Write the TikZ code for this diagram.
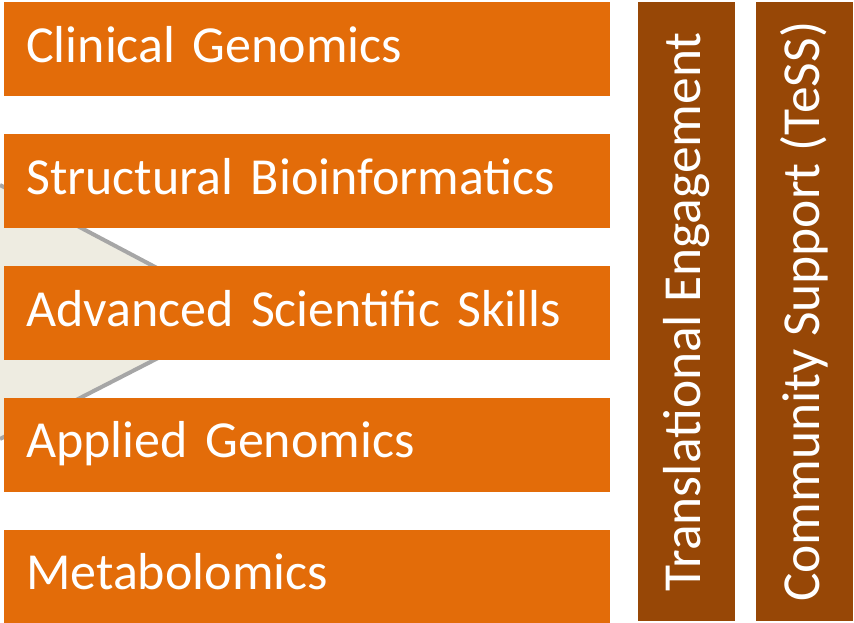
\documentclass[tikz,border=0pt]{standalone}
\usepackage{fontspec}
\setmainfont{Carlito}
\usetikzlibrary{positioning}

\definecolor{theme}{HTML}{E36C09}
\definecolor{themedark}{HTML}{974706}
\definecolor{backfill}{HTML}{EEECE1}
\definecolor{backline}{HTML}{A6A6A6}

\begin{document}
\begin{tikzpicture}
  [x=1pt,y=1pt,
   node distance=37.5pt,
   area/.style={fill=theme,text=white,minimum width=606pt,minimum height=94pt,
                inner xsep=22pt,text width=562pt,align=left,
                text height=40pt,text depth=14pt,
                font=\fontsize{52}{56}\selectfont},
   pillar/.style={fill=themedark,text=white,minimum width=97pt,minimum height=619pt,
                  font=\fontsize{53.5}{58}\selectfont}]

  \useasboundingbox (0,0) rectangle (854,-623);

  % background arrow behind the areas
  \fill[backfill] (0,-185) -- (244,-314) -- (0,-439) -- cycle;
  \draw[backline,line width=4pt] (0,-185) -- (244,-314) -- (0,-439);

  \node[area] (clinical)   at (4,-2) [anchor=north west] {Clinical Genomics};
  \node[area] (structural) [below=of clinical]   {Structural Bioinformatics};
  \node[area] (advanced)   [below=of structural] {Advanced Scientific Skills};
  \node[area] (applied)    [below=of advanced]   {Applied Genomics};
  \node[area] (metabol)    [below=of applied]    {Metabolomics};

  \node[pillar] (translational) at (638,-2) [anchor=north west]
    {\rotatebox{90}{Translational Engagement}};
  \node[pillar] (community) [right=20pt of translational]
    {\rotatebox{90}{Community Support (TeSS)}};
\end{tikzpicture}
\end{document}
